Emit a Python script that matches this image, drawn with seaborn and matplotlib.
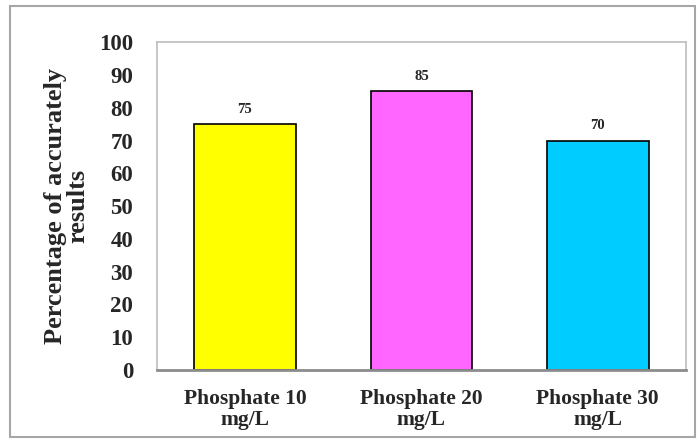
import matplotlib
matplotlib.use("Agg")
import matplotlib.pyplot as plt
import seaborn as sns
import pandas as pd
from matplotlib.patches import Rectangle

categories = ["Phosphate 10\nmg/L", "Phosphate 20\nmg/L", "Phosphate 30\nmg/L"]
values = [75, 85, 70]
colors = ["#FFFF00", "#FF66FF", "#00CCFF"]
yticks = [0, 10, 20, 30, 40, 50, 60, 70, 80, 90, 100]

sns.set_style("white")
plt.rcParams["font.family"] = ["Liberation Serif", "DejaVu Serif"]
plt.rcParams["font.weight"] = "bold"

df = pd.DataFrame({"cat": categories, "val": values})

fig = plt.figure(figsize=(7, 4.44), dpi=100)
ax = fig.add_axes([0.224, 0.1667, 0.756, 0.738])

sns.barplot(data=df, x="cat", y="val", hue="cat", palette=colors, legend=False,
            width=0.575, edgecolor="black", linewidth=1.2, ax=ax, saturation=1)

ax.set_ylim(0, 100)
ax.set_xlim(-0.5, 2.5)
ax.set_yticks(yticks)
ax.set_yticklabels([str(t) for t in yticks], fontsize=16.5, fontweight="bold")
ax.tick_params(axis="x", labelsize=15.5, length=0, pad=14)
ax.tick_params(axis="y", length=0, pad=17)
for lab in ax.get_xticklabels():
    lab.set_fontweight("bold")
    lab.set_linespacing(1.05)
ax.set_xlabel("")
ax.set_ylabel("Percentage of accurately\nresults", fontsize=19, fontweight="bold",
              linespacing=0.95, labelpad=7)

for s in ["top", "right", "left"]:
    ax.spines[s].set_color("#BDBDBD")
    ax.spines[s].set_linewidth(1.2)
ax.spines["bottom"].set_color("#8C8C8C")
ax.spines["bottom"].set_linewidth(2)

for i, v in enumerate(values):
    ax.annotate(str(v), (i, v), xytext=(0, 6), textcoords="offset points",
                ha="center", va="bottom", fontsize=10.5, fontweight="bold")

fig.patches.append(Rectangle((10/700, 7/444), 685/700, 431/444, transform=fig.transFigure,
                             fill=False, edgecolor="#A6A6A6", linewidth=1.5))

fig.savefig("out.png", dpi=100)
